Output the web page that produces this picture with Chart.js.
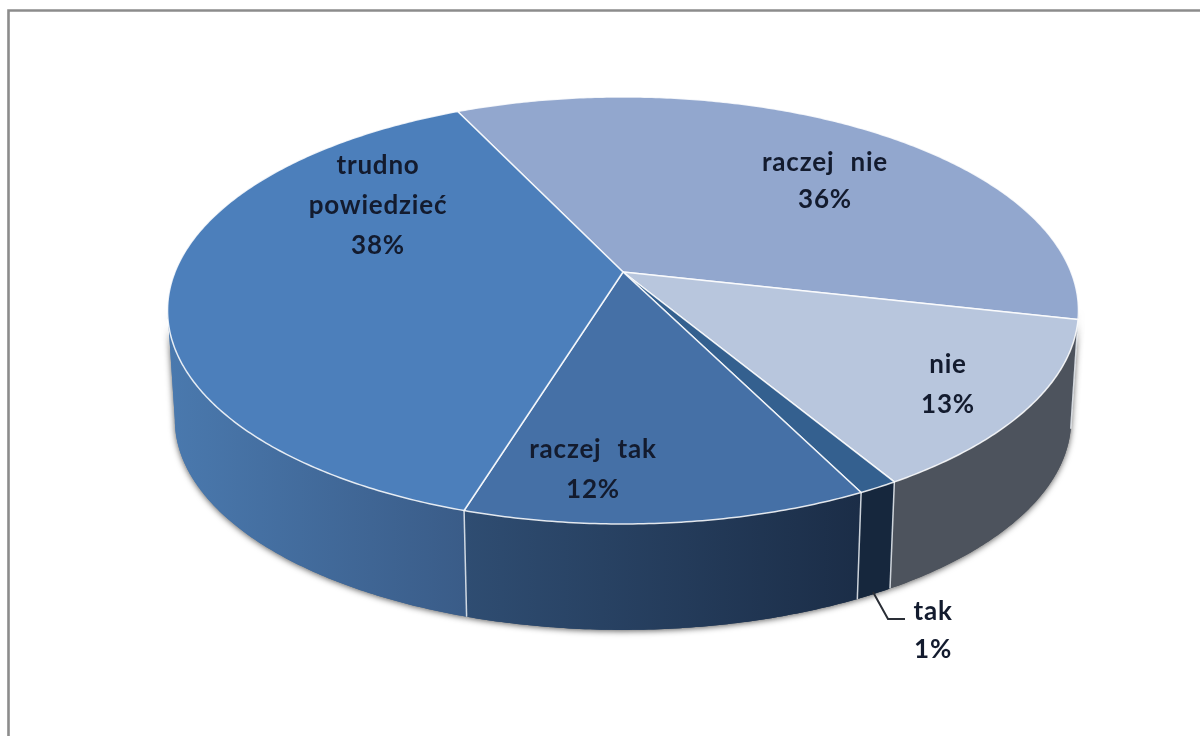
<!DOCTYPE html>
<html><head><meta charset="utf-8">
<style>html,body{margin:0;padding:0;background:#fff;overflow:hidden}
#wrap{position:relative;width:1200px;height:736px}
canvas{display:block;filter:blur(0.6px)}</style>
<script src="https://cdn.jsdelivr.net/npm/chart.js@4/dist/chart.umd.js"></script>
</head><body><div id="wrap"><canvas id="c" width="1200" height="736"></canvas></div>
<script>
const categories = ['raczej nie','nie','tak','raczej tak','trudno powiedzieć'];
const shares = [35.6,12.9,1.2,12.1,38.2];
const topColours = ['#92a7ce','#b8c6dd','#34608f','#4570a6','#4c7fbb'];
const wallStart = ['#4d535d','#4d535d','#16273d','#2f4d72','#4a79ae'];
const wallEnd = ['#4d535d','#4d535d','#16273d','#1b2d47','#3a5c88'];
const labelLines = [['raczej nie'],['nie'],['tak'],['raczej tak'],['trudno','powiedzieć']];

// projection of the flat pie onto the tilted disc
const P={cx:623,cy:272,d:448,a:206.6,c:-0.18,s:0.984,dy:110};
const sideR=Math.asin(-P.c), sideL=Math.PI-sideR; // angles where the rim turns away
function proj(t,low){ // t: canvas angle (0=east, clockwise)
  const u=Math.cos(t),v=Math.sin(t),w=1+P.c*v;
  let x=P.d*u/w,y=P.a*v/w;
  if(low){x*=P.s;y=y*P.s+P.dy;}
  return [P.cx+x,P.cy+y];
}
function tracePts(ctx,a0,a1,low,first){
  const n=Math.max(4,Math.ceil(Math.abs(a1-a0)/0.01));
  for(let i=0;i<=n;i++){const p=proj(a0+(a1-a0)*i/n,low);
    (i===0&&first)?ctx.moveTo(p[0],p[1]):ctx.lineTo(p[0],p[1]);}
}
// each arc draws its own tilted top face
Chart.ArcElement.prototype.draw=function(ctx){
  const {startAngle:a0,endAngle:a1}=this.getProps(['startAngle','endAngle'],true);
  ctx.save();ctx.beginPath();ctx.moveTo(P.cx,P.cy);tracePts(ctx,a0,a1,false,false);ctx.closePath();
  ctx.fillStyle=this.options.backgroundColor;ctx.fill();
  ctx.strokeStyle='rgba(255,255,255,.85)';ctx.lineWidth=1.5;ctx.lineJoin='round';ctx.stroke();
  ctx.restore();
};
const walls={id:'walls',beforeDatasetsDraw(chart){
  const ctx=chart.ctx,arcs=chart.getDatasetMeta(0).data;
  arcs.forEach((el,i)=>{
    const p=el.getProps(['startAngle','endAngle'],true);
    const a0=Math.max(p.startAngle,sideR),a1=Math.min(p.endAngle,sideL);
    if(a0>=a1)return;
    const xs=[proj(a0,false)[0],proj(a1,false)[0]];
    const lo=Math.min(...xs),hi=Math.max(...xs);
    ctx.save();
    // soft shadow below the rim
    ctx.shadowColor='rgba(0,0,0,.65)';ctx.shadowBlur=6;ctx.shadowOffsetY=1;
    ctx.beginPath();tracePts(ctx,a0,a1,false,true);tracePts(ctx,a1,a0,true,false);ctx.closePath();
    const g=ctx.createLinearGradient(lo,0,hi,0);
    g.addColorStop(0,wallStart[i]);g.addColorStop(1,wallEnd[i]);
    ctx.fillStyle=g;ctx.fill();ctx.restore();
  });
  // repaint walls without shadow so the seams between them stay clean
  arcs.forEach((el,i)=>{
    const p=el.getProps(['startAngle','endAngle'],true);
    const a0=Math.max(p.startAngle,sideR),a1=Math.min(p.endAngle,sideL);
    if(a0>=a1)return;
    const xs=[proj(a0,false)[0],proj(a1,false)[0]];
    const g=ctx.createLinearGradient(Math.min(...xs),0,Math.max(...xs),0);
    g.addColorStop(0,wallStart[i]);g.addColorStop(1,wallEnd[i]);
    ctx.beginPath();tracePts(ctx,a0,a1,false,true);tracePts(ctx,a1,a0,true,false);ctx.closePath();
    ctx.fillStyle=g;ctx.fill();
  });
  // seams
  ctx.save();ctx.strokeStyle='rgba(235,240,245,.85)';ctx.lineWidth=1.5;
  arcs.forEach(el=>{const t=el.getProps(['endAngle'],true).endAngle;
    if(t<sideR||t>sideL)return;
    const a=proj(t,false),b=proj(t,true);ctx.beginPath();ctx.moveTo(a[0],a[1]);ctx.lineTo(b[0],b[1]);ctx.stroke();});
  ctx.restore();
}};
const textAnchors=[[825,163],[948,365],[933,612],[593,450],[378,166]];
const lineGaps=[37,40,38,40,40];
const overlay={id:'overlay',afterDraw(chart){
  const ctx=chart.ctx,vals=chart.data.datasets[0].data;
  ctx.save();
  // frame
  ctx.strokeStyle='#8c8c8c';ctx.lineWidth=2.6;ctx.beginPath();ctx.moveTo(8.5,736);ctx.lineTo(8.5,10.5);ctx.lineTo(1200,10.5);ctx.stroke();
  ctx.fillStyle='#131b2e';ctx.font='bold 26px Lato';ctx.textAlign='center';ctx.textBaseline='middle';
  ctx.letterSpacing='0.8px';ctx.wordSpacing='9px';
  labelLines.forEach((ls,i)=>{
    const [x,y]=textAnchors[i];
    ls.concat([Math.round(vals[i])+'%']).forEach((s,j)=>ctx.fillText(s,x,y+j*lineGaps[i]));
  });
  // leader line of the smallest slice
  ctx.strokeStyle='#2a2e36';ctx.lineWidth=2;ctx.beginPath();ctx.moveTo(873,592);ctx.lineTo(888,619);ctx.lineTo(905,619);ctx.stroke();
  ctx.restore();
}};
new Chart(document.getElementById('c'),{
  type:'pie',
  data:{labels:categories,datasets:[{data:shares,backgroundColor:topColours,borderWidth:0}]},
  options:{responsive:false,animation:false,rotation:-25.4,
    plugins:{legend:{display:false},tooltip:{enabled:false}}},
  plugins:[walls,overlay]
});
</script></body></html>
